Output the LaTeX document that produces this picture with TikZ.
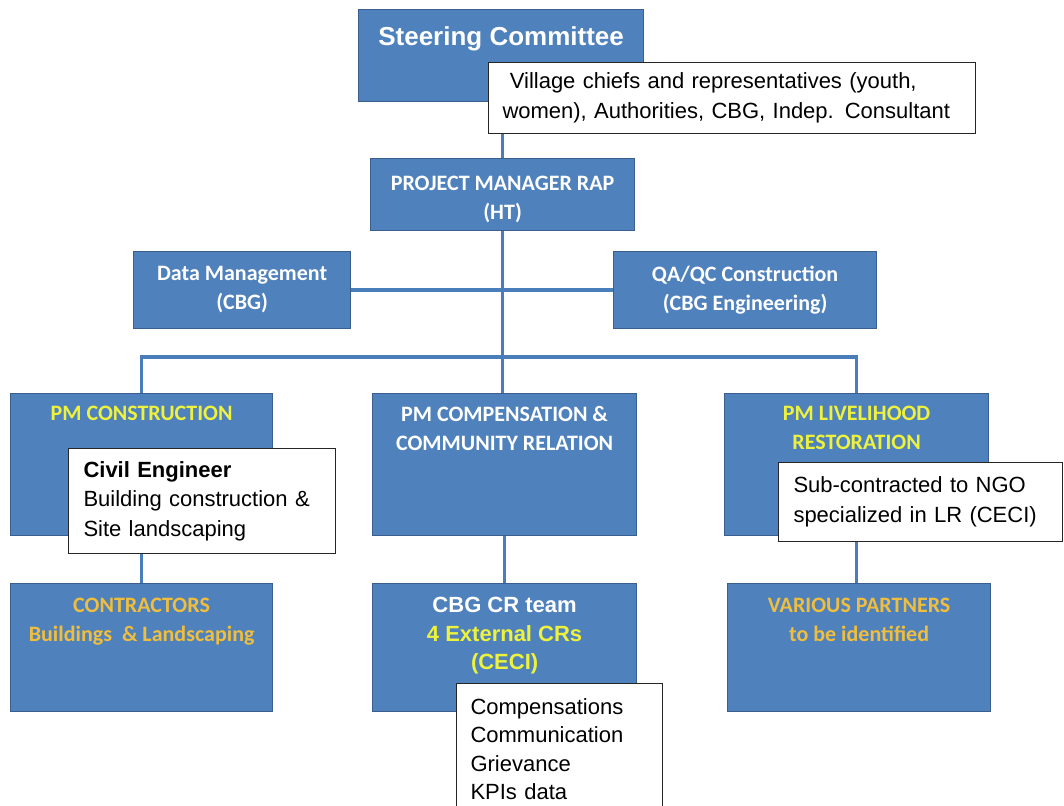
\documentclass[tikz,border=0pt]{standalone}
\usepackage{fontspec}
\setmainfont{Liberation Sans}
\newfontfamily\calibri{Carlito}
\usetikzlibrary{positioning}

\definecolor{unitblue}{HTML}{4F81BD}
\definecolor{unitedge}{HTML}{3A5F8E}
\definecolor{linkblue}{HTML}{4A7EBB}
\definecolor{headyellow}{HTML}{EEF23C}
\definecolor{headgold}{HTML}{F0BE3C}

\begin{document}
\begin{tikzpicture}[x=1pt, y=-1pt,
    unit/.style={draw=unitedge, fill=unitblue, line width=1.2pt, anchor=north west, inner sep=0pt},
    unittext/.style={font=\calibri\bfseries\fontsize{22}{29}\selectfont, text=white, align=center, inner sep=0pt},
    arialtext/.style={font=\bfseries\fontsize{22}{28.5}\selectfont, text=white, align=center, inner sep=0pt},
    note/.style={draw=black!85, fill=white, line width=1pt, anchor=north west, align=left,
        inner xsep=14pt, font=\fontsize{22}{29.5}\selectfont},
    link/.style={draw=linkblue, line width=3.5pt}]

    \useasboundingbox (0,0) rectangle (1064,805);

    % Blue units
    \node[unit, minimum width=285pt, minimum height=92pt] (steer) at (358,9) {};
    \node[unit, minimum width=264pt, minimum height=72pt] (rap) at (370,158) {};
    \node[unit, minimum width=217pt, minimum height=77pt] (dm) at (133,251) {};
    \node[unit, minimum width=263pt, minimum height=77pt] (qa) at (613,251) {};
    \node[unit, minimum width=262pt, minimum height=142pt] (pmcon) at (10,393) {};
    \node[unit, minimum width=264pt, minimum height=142pt] (pmcr) at (372,393) {};
    \node[unit, minimum width=264pt, minimum height=142pt] (pmlr) at (724,393) {};
    \node[unit, minimum width=262pt, minimum height=128pt] (contr) at (10,583) {};
    \node[unit, minimum width=264pt, minimum height=128pt] (cbgcr) at (372,583) {};
    \node[unit, minimum width=263pt, minimum height=128pt] (partners) at (727,583) {};

    % Unit titles
    \node[arialtext, font=\bfseries\fontsize{26}{30}\selectfont, below=17pt of steer.north] (steert) {Steering Committee};
    \node[unittext, below=18pt of rap.north] (rapt) {PROJECT MANAGER RAP\\(HT)};
    \node[unittext, below=15pt of dm.north] (dmt) {Data Management\\(CBG)};
    \node[unittext, below=15pt of qa.north] (qat) {QA/QC Construction\\(CBG Engineering)};
    \node[unittext, text=headyellow, below=13pt of pmcon.north] (pmcont) {PM CONSTRUCTION};
    \node[unittext, below=13pt of pmcr.north] (pmcrt) {PM COMPENSATION \&\\COMMUNITY RELATION};
    \node[unittext, text=headyellow, below=13pt of pmlr.north] (pmlrt) {PM LIVELIHOOD\\RESTORATION};
    \node[unittext, text=headgold, below=15pt of contr.north] (contrt) {CONTRACTORS\\Buildings~~\& Landscaping};
    \node[arialtext, below=14pt of cbgcr.north] (cbgcrt) {CBG CR team\\\textcolor{headyellow}{4 External CRs}\\\textcolor{headyellow}{(CECI)}};
    \node[unittext, text=headgold, below=15pt of partners.north] (partnerst) {VARIOUS PARTNERS\\to be identified};

    % Connectors
    \draw[link] (rap.north) -- (rap.north |- steer.south);
    \draw[link] (rap.south) -- (rap.south |- pmcr.north);
    \draw[link] (dm.east) -- (qa.west);
    \draw[link] (pmcon.north) -- ++(0,-36) -| (pmlr.north);
    \draw[link] (pmcon.south) -- (contr.north);
    \draw[link] (pmcr.south) -- (cbgcr.north);
    \draw[link] (pmlr.south) -- (pmlr.south |- partners.north);

    % White notes
    \node[note, text width=459pt, minimum height=71pt] (village) at (488,62)
        {\ Village chiefs and representatives (youth,\\women), Authorities, CBG, Indep. Consultant};
    \node[note, text width=237pt, inner xsep=15pt, minimum height=105pt] (civil) at (68,448)
        {\textbf{Civil Engineer}\\Building construction \&\\Site landscaping};
    \node[note, text width=254pt, inner xsep=15pt, minimum height=79pt] (ngo) at (778,462)
        {Sub-contracted to NGO\\specialized in LR (CECI)};
    \node[note, text width=178pt, inner ysep=15pt, font=\fontsize{22}{28.5}\selectfont] (tasks) at (456,683)
        {Compensations\\Communication\\Grievance\\KPIs data};
\end{tikzpicture}
\end{document}
